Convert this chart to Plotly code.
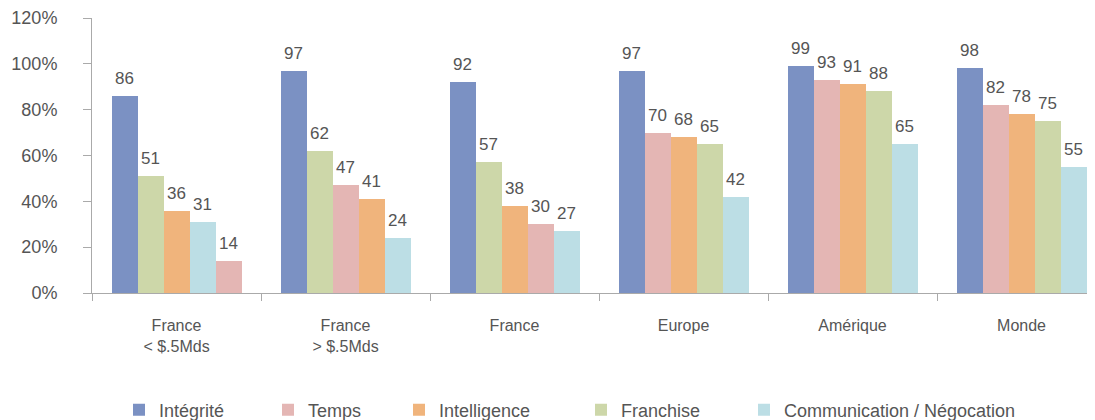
import plotly.graph_objects as go

groups = ["France<br>&lt; $.5Mds", "France<br>&gt; $.5Mds", "France", "Europe", "Amérique", "Monde"]
series_names = ["Intégrité", "Temps", "Intelligence", "Franchise", "Communication / Négocation"]
integrite = [86, 97, 92, 97, 99, 98]
temps = [14, 47, 30, 70, 93, 82]
intelligence = [36, 41, 38, 68, 91, 78]
franchise = [51, 62, 57, 65, 88, 75]
communication = [31, 24, 27, 42, 65, 55]
y_ticks = [0, 20, 40, 60, 80, 100, 120]

colors = ["#7b91c3", "#e4b6b4", "#f0b47c", "#cdd7a9", "#bcdee5"]
all_series = [integrite, temps, intelligence, franchise, communication]
legend_text_px = [163, 312, 443, 625, 788]

FONT = "Liberation Sans, Arial, sans-serif"
TXT = "#555555"
AX = "#aaaaaa"

# the page body has an 8px margin: the figure starts at (8, 8) in the window
OFF = 8
W, H = 1095 - OFF, 420 - OFF
ML, MR, MT = 92 - OFF, 0, 18 - OFF
plot_bottom = 293 - OFF
MB = H - plot_bottom
plot_w = W - ML - MR
plot_h = H - MT - MB
group_px = 169.0
bar_w = 26.0 / group_px
x_max = -0.5 + plot_w / group_px

# rank of each series inside each group (descending values)
n_g = len(groups)
ranks = [[0] * n_g for _ in all_series]
for g in range(n_g):
    vals = [s[g] for s in all_series]
    order = sorted(range(len(vals)), key=lambda i: -vals[i])
    for r, i in enumerate(order):
        ranks[i][g] = r

fig = go.Figure()
annotations = []
for si, (name, vals) in enumerate(zip(series_names, all_series)):
    xs = [g + (ranks[si][g] - 2) * bar_w for g in range(n_g)]
    lg = "legend" if si == 0 else f"legend{si + 1}"
    fig.add_trace(go.Bar(
        x=xs, y=vals, width=bar_w, name=name,
        marker=dict(color=colors[si], line=dict(width=0)),
        cliponaxis=False, legend=lg,
    ))
    for x, v in zip(xs, vals):
        annotations.append(dict(
            x=x, y=v, xref="x", yref="y", text=str(v), showarrow=False,
            xanchor="center", yanchor="bottom", yshift=6,
            font=dict(family=FONT, size=17, color=TXT),
        ))

layout_legends = {}
for si in range(len(series_names)):
    key = "legend" if si == 0 else f"legend{si + 1}"
    layout_legends[key] = dict(
        x=(legend_text_px[si] - OFF - 44 - ML) / plot_w, xanchor="left",
        y=(plot_bottom - (410 - OFF)) / plot_h, yanchor="middle",
        orientation="h", bgcolor="rgba(0,0,0,0)", borderwidth=0,
        font=dict(family=FONT, size=18, color=TXT),
    )

fig.update_layout(
    width=W, height=H,
    margin=dict(l=ML, r=MR, t=MT, b=MB, autoexpand=False),
    paper_bgcolor="white", plot_bgcolor="white",
    bargap=0, barmode="overlay",
    showlegend=True,
    annotations=annotations,
    xaxis=dict(
        range=[-0.5, x_max], showgrid=False, zeroline=False, automargin=False,
        showline=True, linecolor=AX, linewidth=1,
        tickmode="array", tickvals=list(range(n_g)), ticktext=groups,
        ticks="", tickfont=dict(family=FONT, size=16, color=TXT),
        ticklabelstandoff=18,
        minor=dict(tickmode="array", tickvals=[g - 0.5 for g in range(n_g + 1)],
                   ticks="outside", ticklen=7, tickcolor=AX, tickwidth=1, showgrid=False),
    ),
    yaxis=dict(
        range=[0, 120], showgrid=False, zeroline=False, automargin=False,
        showline=True, linecolor=AX, linewidth=1,
        tickmode="array", tickvals=y_ticks, ticktext=[f"{v}%" for v in y_ticks],
        ticks="outside", ticklen=8, tickcolor=AX,
        tickfont=dict(family=FONT, size=18, color=TXT),
        ticklabelstandoff=22,
    ),
    **layout_legends,
)

fig.write_html("out.html")
